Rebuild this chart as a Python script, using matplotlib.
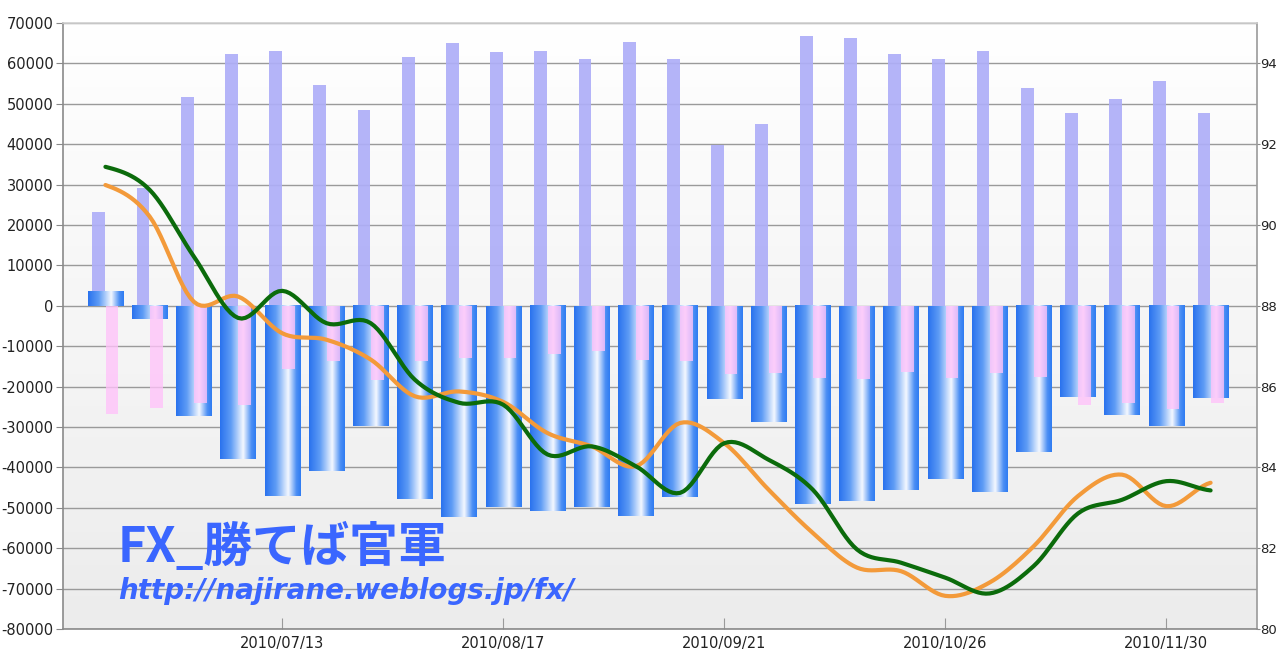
import numpy as np
import matplotlib
matplotlib.use("Agg")
from matplotlib import pyplot as plt
from matplotlib.colors import LinearSegmentedColormap

plt.rcParams['font.family'] = ['DejaVu Sans']
plt.rcParams['axes.unicode_minus'] = False

# semanas (terça-feira)
semanas = ["2010/06/15", "2010/06/22", "2010/06/29", "2010/07/06", "2010/07/13",
           "2010/07/20", "2010/07/27", "2010/08/03", "2010/08/10", "2010/08/17",
           "2010/08/24", "2010/08/31", "2010/09/07", "2010/09/14", "2010/09/21",
           "2010/09/28", "2010/10/05", "2010/10/12", "2010/10/19", "2010/10/26",
           "2010/11/02", "2010/11/09", "2010/11/16", "2010/11/23", "2010/11/30",
           "2010/12/07"]

# barras (eixo esquerdo)
compra = [23200, 29100, 51700, 62400, 63000, 54600, 48400, 61500, 65100, 62700,
          63000, 61200, 65400, 61200, 39800, 45100, 66900, 66200, 62400, 61200,
          63000, 54000, 47600, 51100, 55600, 47600]
liquido = [3500, -3300, -27200, -37800, -47100, -40800, -29800, -47900, -52400, -49700,
           -50800, -49700, -52000, -47300, -23000, -28700, -49100, -48200, -45500, -42800,
           -46000, -36300, -22600, -27100, -29800, -22900]
venda = [-26800, -25300, -24000, -24500, -15600, -13600, -18400, -13600, -12800, -12800,
         -11900, -11100, -13300, -13600, -16800, -16600, -17900, -18100, -16500, -17900,
         -16600, -17700, -24500, -24000, -25500, -24000]

# linhas (eixo direito)
linha_verde = [91.44, 90.87, 89.22, 87.70, 88.37, 87.57, 87.57, 86.17, 85.60, 85.55,
               84.32, 84.52, 84.03, 83.37, 84.60, 84.19, 83.45, 81.97, 81.64, 81.27,
               80.88, 81.56, 82.86, 83.20, 83.66, 83.43]
linha_laranja = [90.99, 90.21, 88.10, 88.23, 87.32, 87.16, 86.67, 85.76, 85.88, 85.62,
                 84.85, 84.52, 84.03, 85.10, 84.60, 83.45, 82.38, 81.52, 81.43, 80.82,
                 81.15, 82.05, 83.29, 83.82, 83.04, 83.62]

rotulos_idx = [4, 9, 14, 19, 24]


def suavizar(x, y, n=12):
    # curva Catmull-Rom passando pelos pontos
    x = np.asarray(x, float)
    y = np.asarray(y, float)
    xs, ys = [], []
    for i in range(len(y) - 1):
        p0 = y[max(i - 1, 0)]
        p1 = y[i]
        p2 = y[i + 1]
        p3 = y[min(i + 2, len(y) - 1)]
        t = np.linspace(0, 1, n, endpoint=False)
        v = 0.5 * (2 * p1 + (-p0 + p2) * t + (2 * p0 - 5 * p1 + 4 * p2 - p3) * t ** 2
                   + (-p0 + 3 * p1 - 3 * p2 + p3) * t ** 3)
        xs.extend(x[i] + (x[i + 1] - x[i]) * t)
        ys.extend(v)
    xs.append(x[-1])
    ys.append(y[-1])
    return np.array(xs), np.array(ys)


fig = plt.figure(figsize=(12.78, 6.53), dpi=100)
ax = fig.add_axes([63 / 1278, 1 - 629 / 653, 1194 / 1278, 606 / 653])

x = np.arange(len(semanas))
xlim = (-0.96, 26.05)
ylim = (-80000, 70000)

# fundo em degradê
fundo = LinearSegmentedColormap.from_list("fundo", ["#ececec", "#ffffff"])
ax.imshow(np.linspace(0, 1, 256).reshape(-1, 1), extent=(xlim[0], xlim[1], ylim[0], ylim[1]),
          origin="lower", cmap=fundo, aspect="auto", zorder=-2)

# barras de compra
ax.bar(x - 0.15, compra, width=0.29, color="#aeaef8", alpha=0.92, zorder=2, linewidth=0)

# barras líquidas com degradê horizontal
azul = LinearSegmentedColormap.from_list(
    "azul", [(0, "#2a72ee"), (0.3, "#5e9cf5"), (0.65, "#f4f8ff"), (0.88, "#4a8ef4"), (1, "#2f7cf2")])
grad = np.linspace(0, 1, 128).reshape(1, -1)
for xi, v in zip(x, liquido):
    ax.imshow(grad, extent=(xi - 0.4, xi + 0.4, min(0, v), max(0, v)), origin="lower",
              cmap=azul, aspect="auto", zorder=3, interpolation="bilinear")

# barras de venda
ax.bar(x + 0.15, venda, width=0.29, color="#ffc2fa", alpha=0.78, zorder=4, linewidth=0)

ax.set_xlim(*xlim)
ax.set_ylim(*ylim)
ax.set_yticks(np.arange(-80000, 70001, 10000))
ax.set_xticks([x[i] for i in rotulos_idx])
ax.set_xticklabels([semanas[i] for i in rotulos_idx])
ax.grid(True, axis="y", color="#9a9a9a", linewidth=1)
ax.set_axisbelow(True)
ax.tick_params(axis="y", direction="out", length=5, color="#888888", labelsize=10.5, labelcolor="#222222", pad=2)
ax.tick_params(axis="x", direction="in", length=8, color="#999999", labelsize=10.5, labelcolor="#222222", pad=5)

for lado, cor in [("left", "#8a8a8a"), ("bottom", "#8a8a8a"), ("right", "#9a9a9a"), ("top", "#d0d0d0")]:
    ax.spines[lado].set_color(cor)
    ax.spines[lado].set_linewidth(1.2)

# eixo direito e linhas
ax2 = ax.twinx()
ax2.set_ylim(80, 95)
ax2.set_yticks(np.arange(80, 95, 2))
ax2.tick_params(axis="y", direction="out", length=2, color="#888888", labelsize=9.5, labelcolor="#222222", pad=0.5)
for lado in ax2.spines:
    ax2.spines[lado].set_visible(False)

xs, ys = suavizar(x, linha_laranja)
ax2.plot(xs, ys, color="#f39a3a", linewidth=3, solid_capstyle="round", zorder=5)
xs, ys = suavizar(x, linha_verde)
ax2.plot(xs, ys, color="#0b6b0b", linewidth=3, solid_capstyle="round", zorder=6)

# marca d'água
ax2.text(0.046, 0.11, "FX_勝てば官軍", transform=ax.transAxes, color="#3a66ff",
         fontsize=35, fontweight="bold", fontstyle="italic",
         family=["Noto Sans CJK JP", "DejaVu Sans"], zorder=10)
ax2.text(0.046, 0.05, "http://najirane.weblogs.jp/fx/", transform=ax.transAxes, color="#3a66ff",
         fontsize=20, fontweight="bold", fontstyle="italic", family=["DejaVu Sans"], zorder=10)

fig.savefig("out.png", dpi=100)
